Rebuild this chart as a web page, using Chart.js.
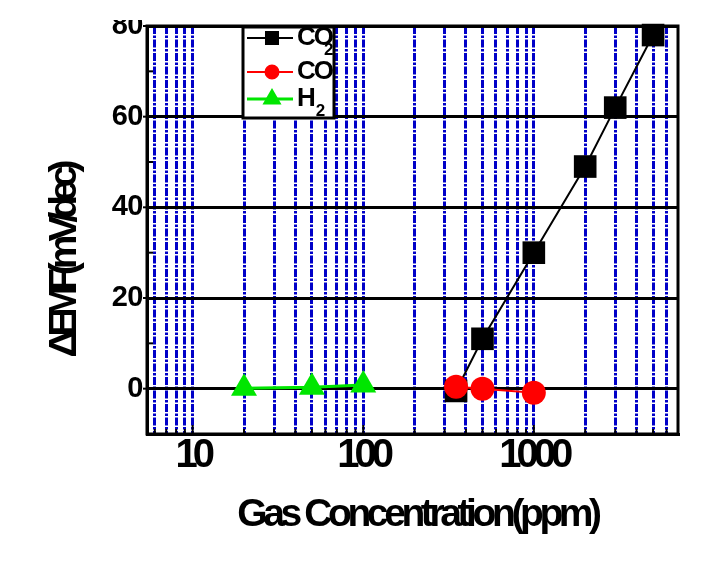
<!DOCTYPE html>
<html>
<head>
<meta charset="utf-8">
<script src="https://cdn.jsdelivr.net/npm/chart.js@4.4.1/dist/chart.umd.min.js"></script>
<style>
  html, body { margin: 0; padding: 0; background: #fff; }
  #wrap { position: relative; width: 711px; height: 566px; overflow: hidden; }
  #chart { position: absolute; left: 0; top: 20px; }
</style>
</head>
<body>
<div id="wrap"><canvas id="chart" width="711" height="546"></canvas></div>
<script>
// data
var seriesNames = ["CO2", "CO", "H2"];
var co2X = [350, 500, 1000, 2000, 3000, 5000];
var co2Y = [-0.5, 11, 30, 49, 62, 78];
var coX = [350, 500, 1000];
var coY = [0.4, 0, -0.9];
var h2X = [20, 50, 100];
var h2Y = [0.1, 0.3, 0.8];

// axes
var xGridValues = [6, 7, 8, 9, 10, 20, 30, 40, 50, 60, 70, 80, 90,
  100, 200, 300, 400, 500, 600, 700, 800, 900,
  1000, 2000, 3000, 4000, 5000, 6000];
var xLabelValues = [10, 100, 1000];
var yLabelValues = [0, 20, 40, 60, 80];

function points(xs, ys) {
  return xs.map(function (x, i) { return { x: x, y: ys[i] }; });
}

var FONT = "'Liberation Sans', Arial, sans-serif";

// tighter text like the original figure
var squeeze = {
  x: { ticks: "-5px", title: "-4.4px", dx: 5, dy: 0 },
  y: { ticks: "-0.5px", title: "-7px", dx: 0, dy: 32 },
};

var squeezePlugin = {
  id: "squeeze",
  afterLayout: function (chart) {
    Object.values(chart.scales).forEach(function (s) {
      if (s._squeezed) return;
      s._squeezed = true;
      var sp = squeeze[s.id];
      var dl = s.drawLabels, dt = s.drawTitle;
      s.drawLabels = function (a) {
        this.ctx.save();
        this.ctx.letterSpacing = sp.ticks;
        dl.call(this, a);
        this.ctx.restore();
      };
      s.drawTitle = function () {
        this.ctx.save();
        this.ctx.letterSpacing = sp.title;
        this.ctx.translate(sp.dx, sp.dy);
        dt.call(this);
        this.ctx.restore();
      };
    });
  },
};

var framePlugin = {
  id: "frame",
  beforeDatasetsDraw: function (chart) {
    var ctx = chart.ctx, a = chart.chartArea;
    var xs = chart.scales.x, ys = chart.scales.y;
    ctx.save();
    ctx.strokeStyle = "#000";
    ctx.lineWidth = 2;
    // small tick marks
    ys.ticks.forEach(function (t) {
      var py = ys.getPixelForValue(t.value);
      ctx.beginPath();
      if (yLabelValues.indexOf(t.value) >= 0) {
        ctx.moveTo(a.left - 4, py); ctx.lineTo(a.left + 8, py);
      } else {
        ctx.moveTo(a.left, py); ctx.lineTo(a.left + 6, py);
      }
      ctx.stroke();
    });
    xs.ticks.forEach(function (t) {
      var px = xs.getPixelForValue(t.value);
      var len = xLabelValues.indexOf(t.value) >= 0 ? 9 : 5;
      ctx.beginPath();
      ctx.moveTo(px, a.bottom); ctx.lineTo(px, a.bottom - len);
      ctx.stroke();
    });
    ctx.lineWidth = 3;
    ctx.strokeRect(a.left, a.top, a.right - a.left, a.bottom - a.top);
    ctx.restore();
  },
};

var legendPlugin = {
  id: "boxLegend",
  afterDatasetsDraw: function (chart) {
    var ctx = chart.ctx, a = chart.chartArea;
    var left = a.left + 96, top = a.top + 1, w = 91, h = 91;
    var rows = [11, 45, 72];
    ctx.save();
    ctx.fillStyle = "#fff";
    ctx.fillRect(left, top, w, h);
    ctx.strokeStyle = "#000";
    ctx.lineWidth = 3;
    ctx.strokeRect(left, top, w, h);
    chart.data.datasets.forEach(function (ds, i) {
      var y = top + rows[i];
      ctx.strokeStyle = ds.borderColor;
      ctx.lineWidth = ds.borderWidth;
      ctx.beginPath();
      ctx.moveTo(left + 4, y); ctx.lineTo(left + 50, y);
      ctx.stroke();
      ctx.fillStyle = ds.backgroundColor;
      ctx.strokeStyle = ds.backgroundColor;
      Chart.helpers.drawPoint(ctx, {
        pointStyle: ds.pointStyle, radius: ds.legendRadius, borderWidth: 1, rotation: 0,
      }, left + 29, y);
      var m = ds.label.match(/^(\D+)(\d*)$/);
      ctx.fillStyle = "#000";
      ctx.letterSpacing = "-2px";
      ctx.font = "bold 26px " + FONT;
      ctx.textBaseline = "middle";
      ctx.textAlign = "left";
      ctx.fillText(m[1], left + 54, y);
      var tw = ctx.measureText(m[1]).width;
      if (m[2]) {
        ctx.font = "bold 17px " + FONT;
        ctx.fillText(m[2], left + 54 + tw - (i === 0 ? 8 : -2), y + 12);
      }
      ctx.letterSpacing = "0px";
    });
    ctx.restore();
  },
};

new Chart(document.getElementById("chart"), {
  type: "line",
  data: {
    datasets: [
      {
        label: seriesNames[0], data: points(co2X, co2Y),
        borderColor: "#000", backgroundColor: "#000", borderWidth: 2,
        pointStyle: "rect", pointRadius: 16, legendRadius: 8.5, order: 3,
      },
      {
        label: seriesNames[1], data: points(coX, coY),
        borderColor: "#ff0000", backgroundColor: "#ff0000", borderWidth: 2,
        pointStyle: "circle", pointRadius: 12, legendRadius: 6.5, order: 2,
      },
      {
        label: seriesNames[2], data: points(h2X, h2Y),
        borderColor: "#00e600", backgroundColor: "#00e600", borderWidth: 3,
        pointStyle: "triangle", pointRadius: 15, legendRadius: 8, order: 1,
      },
    ],
  },
  options: {
    responsive: false,
    animation: false,
    clip: false,
    datasets: { line: { clip: false, pointBorderWidth: 0, tension: 0 } },
    layout: { autoPadding: false, padding: { left: 0, top: 6, right: 33, bottom: 0 } },
    plugins: { legend: { display: false }, tooltip: { enabled: false } },
    scales: {
      x: {
        type: "logarithmic",
        min: 5.4,
        max: 7000,
        afterBuildTicks: function (s) {
          s.ticks = xGridValues.map(function (v) { return { value: v }; });
        },
        afterFit: function (s) {
          s.height = 132;
          s.paddingLeft = 0;
          s.paddingRight = 0;
        },
        grid: { color: "#0000c8", lineWidth: 3, drawTicks: false },
        border: { display: true, color: "#000", width: 3, dash: [8, 1.5, 2.5, 1.5] },
        ticks: {
          autoSkip: false, maxRotation: 0, minRotation: 0, padding: 0,
          color: "#000",
          font: { family: FONT, size: 40, weight: "bold", lineHeight: 1.1 },
          callback: function (v) { return xLabelValues.indexOf(v) >= 0 ? String(v) : ""; },
        },
        title: {
          display: true, text: "Gas Concentration(ppm)", color: "#000",
          font: { family: FONT, size: 39, weight: "bold" },
          padding: { top: 0, bottom: 27 },
        },
      },
      y: {
        min: -10,
        max: 80,
        afterFit: function (s) {
          s.width = 147;
          s.paddingTop = 0;
          s.paddingBottom = 0;
        },
        grid: {
          color: function (c) { return c.tick && c.tick.value % 20 === 0 ? "#000" : "rgba(0,0,0,0)"; },
          lineWidth: 3, drawTicks: false,
        },
        border: { display: true, color: "#000", width: 3 },
        ticks: {
          stepSize: 10, padding: 4, color: "#000",
          font: { family: FONT, size: 29, weight: "bold" },
          callback: function (v) { return yLabelValues.indexOf(v) >= 0 ? String(v) : ""; },
        },
        title: {
          display: true, text: "\u0394EMF(mV/dec)", color: "#000",
          font: { family: FONT, size: 39, weight: "bold" },
          padding: { top: 42, bottom: 0 },
        },
      },
    },
  },
  plugins: [squeezePlugin, framePlugin, legendPlugin],
});
</script>
</body>
</html>
